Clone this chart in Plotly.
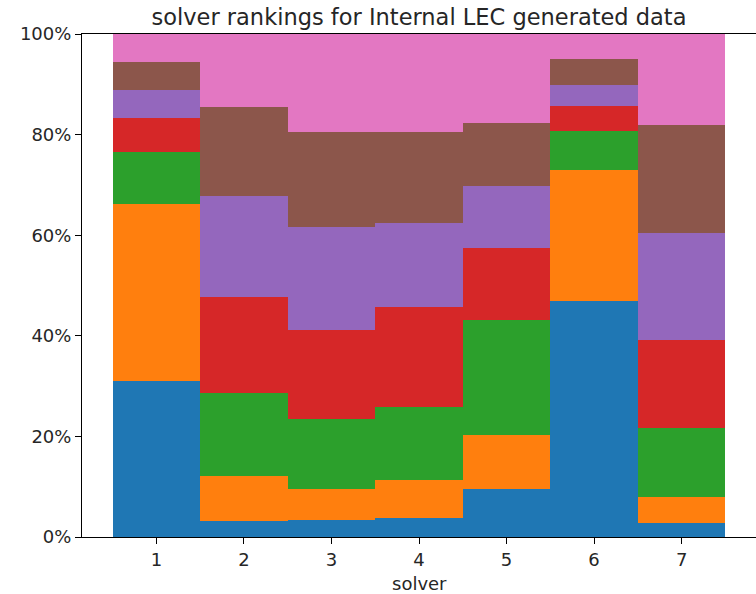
import plotly.graph_objects as go

solvers = [1, 2, 3, 4, 5, 6, 7]
ranks = ["rank 1", "rank 2", "rank 3", "rank 4", "rank 5", "rank 6", "rank 7"]
colors = ["#1f77b4", "#ff7f0e", "#2ca02c", "#d62728", "#9467bd", "#8c564b", "#e377c2"]
y_ticks = [0, 20, 40, 60, 80, 100]

# share (%) of runs in which each solver finished at a given rank
rank1 = [31.1, 3.2, 3.4, 3.7, 9.5, 47.0, 2.7]
rank2 = [35.2, 9.0, 6.1, 7.6, 10.8, 26.0, 5.3]
rank3 = [10.2, 16.5, 13.9, 14.6, 22.8, 7.8, 13.6]
rank4 = [6.9, 19.1, 17.8, 19.9, 14.3, 4.9, 17.6]
rank5 = [5.5, 19.9, 20.4, 16.6, 12.4, 4.2, 21.2]
rank6 = [5.5, 17.7, 19.0, 18.2, 12.6, 5.1, 21.6]
rank7 = [5.6, 14.6, 19.4, 19.4, 17.6, 5.0, 18.0]

series = [rank1, rank2, rank3, rank4, rank5, rank6, rank7]

font_family = "DejaVu Sans"
text_color = "#262626"

fig = go.Figure()
for name, vals, col in zip(ranks, series, colors):
    fig.add_trace(go.Bar(
        x=solvers, y=vals, name=name,
        marker=dict(color=col, line=dict(width=0)),
        width=1.0,
    ))

fig.update_layout(
    width=756, height=594,
    barmode="stack", bargap=0,
    showlegend=False,
    plot_bgcolor="white", paper_bgcolor="white",
    margin=dict(l=82, r=0, t=34, b=57),
    font=dict(family=font_family, size=18, color=text_color),
    title=dict(
        text="solver rankings for Internal LEC generated data",
        x=0.5, xref="paper", xanchor="center",
        y=1 - 17 / 594, yref="container", yanchor="middle",
        font=dict(family=font_family, size=22.5, color=text_color),
    ),
)

fig.update_xaxes(
    range=[0.15, 7.85],
    tickvals=solvers, ticktext=[str(s) for s in solvers],
    ticks="outside", ticklen=6, tickwidth=1, tickcolor="black",
    showline=True, linecolor="black", linewidth=1, mirror=True,
    showgrid=False, zeroline=False,
    tickfont=dict(size=18),
)
fig.update_yaxes(
    range=[0, 100],
    tickvals=y_ticks, ticktext=[f"{v}%" for v in y_ticks],
    ticks="outside", ticklen=6, tickwidth=1, tickcolor="black",
    showline=True, linecolor="black", linewidth=1, mirror=False,
    showgrid=False, zeroline=False,
    tickfont=dict(size=18),
)

fig.add_annotation(
    text="solver", showarrow=False,
    x=0.5, xref="paper", y=-46 / 503, yref="paper",
    xanchor="center", yanchor="middle",
    font=dict(family=font_family, size=18, color=text_color),
)

fig.write_html("out.html")
